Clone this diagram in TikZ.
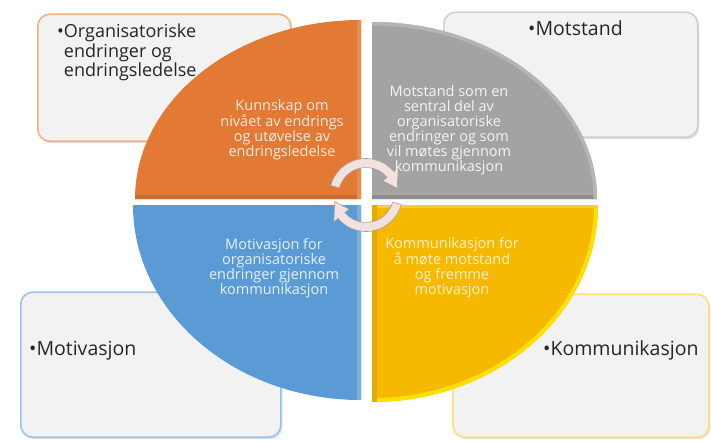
\documentclass[tikz,border=0pt]{standalone}
\usepackage{fontspec}
\setmainfont{Open Sans}
\usetikzlibrary{shadows,arrows.meta}
\definecolor{qorange}{HTML}{E27934}
\definecolor{qgray}{HTML}{A3A3A3}
\definecolor{qblue}{HTML}{5B9BD5}
\definecolor{qyellow}{HTML}{F7B900}
\definecolor{borange}{HTML}{F4B183}
\definecolor{bgray}{HTML}{D0D0D0}
\definecolor{bblue}{HTML}{9DC3E6}
\definecolor{byellow}{HTML}{FFE17A}
\definecolor{boxfill}{HTML}{F2F2F2}
\definecolor{arrowfill}{HTML}{F1E2DF}
\definecolor{arrowline}{HTML}{A99C9A}
\begin{document}
\begin{tikzpicture}[x=1pt,y=1pt,
  box/.style={draw, line width=1.6pt, rounded corners=12pt, fill=boxfill, inner sep=0pt,
    drop shadow={opacity=0.25, shadow xshift=1.5pt, shadow yshift=-2pt}},
  bevel/.style={line width=9pt},
  qtext/.style={font=\fontsize{14.5}{15}\selectfont, align=center, inner sep=0pt},
  btext/.style={font=\fontsize{19.5}{19}\selectfont, text=black!85, inner sep=0pt},
  cyc/.style={fill=arrowfill, draw=arrowline, line width=0.6pt}]
\useasboundingbox (0,0) rectangle (711,440);
% corner boxes
\node[box, draw=borange, minimum width=253pt, minimum height=127pt, anchor=south west] (b1) at (37,298) {};
\node[box, draw=bgray, minimum width=254pt, minimum height=125pt, anchor=south west] (b2) at (443,302) {};
\node[box, draw=bblue, minimum width=260pt, minimum height=145pt, anchor=south west] (b3) at (20,2) {};
\node[box, draw=byellow, minimum width=256pt, minimum height=143pt, anchor=south west] (b4) at (452,2) {};
% quadrants
\fill[qorange] (361,241) -- (135,241) arc[start angle=180, end angle=90, x radius=226pt, y radius=179pt] -- cycle;
\begin{scope}
  \clip (361,241) -- (135,241) arc[start angle=180, end angle=90, x radius=226pt, y radius=179pt] -- cycle;
  \draw[bevel, qorange!88!black] (135,241) -- (361,241);
  \draw[bevel, qorange!85!white] (361,241) -- (361,420);
\end{scope}
\fill[qgray] (372,241) -- (372,418) arc[start angle=90, end angle=0, x radius=225pt, y radius=177pt] -- cycle;
\begin{scope}
  \clip (372,241) -- (372,418) arc[start angle=90, end angle=0, x radius=225pt, y radius=177pt] -- cycle;
  \draw[bevel, qgray!87!black] (372,241) -- (597,241);
  \draw[line width=7pt, qgray!80!white] (372,418) arc[start angle=90, end angle=0, x radius=225pt, y radius=177pt];
\end{scope}
\fill[qblue] (361,235) -- (133,235) arc[start angle=180, end angle=270, x radius=228pt, y radius=195pt] -- cycle;
\begin{scope}
  \clip (361,235) -- (133,235) arc[start angle=180, end angle=270, x radius=228pt, y radius=195pt] -- cycle;
  \draw[bevel, qblue!80!white] (361,235) -- (361,40);
\end{scope}
\fill[qyellow] (372,235) -- (598,235) arc[start angle=0, end angle=-90, x radius=226pt, y radius=197pt] -- cycle;
\begin{scope}
  \clip (372,235) -- (598,235) arc[start angle=0, end angle=-90, x radius=226pt, y radius=197pt] -- cycle;
  \draw[line width=8pt, yellow!70!qyellow] (598,235) arc[start angle=0, end angle=-90, x radius=226pt, y radius=197pt];
  \draw[line width=6pt, qyellow!75!white] (372,235) -- (598,235);
  \draw[bevel, qyellow!92!black] (372,235) -- (372,38);
\end{scope}
% cycle arrows
\path[cyc] ([shift={(366,245)}]165:36.5pt) arc[start angle=165, end angle=40, radius=36.5pt]
  -- ([shift={(366,245)}]40:42pt) -- ([shift={(366,245)}]12:32pt) -- ([shift={(366,245)}]40:22pt)
  -- ([shift={(366,245)}]40:27.5pt) arc[start angle=40, end angle=165, radius=27.5pt] -- cycle;
\path[cyc] ([shift={(366,245)}]-15:36.5pt) arc[start angle=-15, end angle=-140, radius=36.5pt]
  -- ([shift={(366,245)}]-140:42pt) -- ([shift={(366,245)}]-168:32pt) -- ([shift={(366,245)}]-140:22pt)
  -- ([shift={(366,245)}]-140:27.5pt) arc[start angle=-140, end angle=-15, radius=27.5pt] -- cycle;
% quadrant texts
\node[qtext, text=white!85!qorange] (t1) at (282,310) {Kunnskap om\\nivået av endrings\\og utøvelse av\\endringsledelse};
\node[qtext, text=white!88!qgray] (t2) at (449,310) {Motstand som en\\sentral del av\\organisatoriske\\endringer og som\\vil møtes gjennom\\kommunikasjon};
\node[qtext, text=white!85!qblue] (t3) at (274,172) {Motivasjon for\\organisatoriske\\endringer gjennom\\kommunikasjon};
\node[qtext, text=white!80!qyellow] (t4) at (452,172) {Kommunikasjon for\\å møte motstand\\og fremme\\motivasjon};
% box texts
\node[btext, font=\fontsize{18}{18.5}\selectfont, anchor=north west] (l1) at (57,416) {\begin{tabular}{@{}l@{}l@{}}•&Organisatoriske\\ &endringer og\\ &endringsledelse\end{tabular}};
\node[btext, anchor=base west] (l2) at (528,404) {•Motstand};
\node[btext, anchor=base west] (l3) at (29,85) {•Motivasjon};
\node[btext, anchor=base west] (l4) at (543,85) {•Kommunikasjon};
\end{tikzpicture}
\end{document}
